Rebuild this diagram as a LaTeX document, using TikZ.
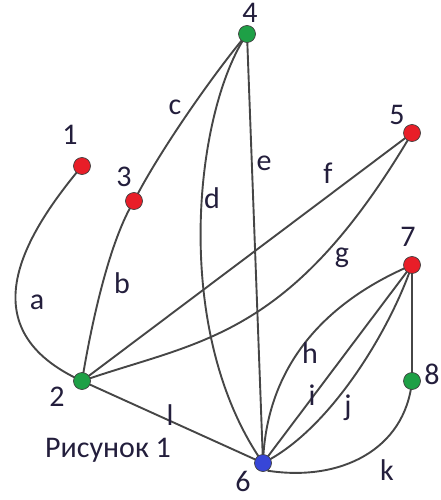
\documentclass[tikz,border=0pt]{standalone}
\usepackage{fontspec}
\setmainfont{Carlito}
\usetikzlibrary{backgrounds}
\definecolor{vred}{RGB}{232,30,40}
\definecolor{vgreen}{RGB}{30,160,70}
\definecolor{vblue}{RGB}{55,70,215}
\definecolor{edgecol}{RGB}{70,70,70}
\definecolor{txt}{RGB}{35,30,60}
\begin{document}
\begin{tikzpicture}[x=1pt,y=-1pt,
  vert/.style={circle, inner sep=0pt, minimum size=17pt, draw=black!75, line width=0.7pt},
  lab/.style={font=\fontsize{30}{35}\selectfont, text=txt, inner sep=0pt},
  edge/.style={draw=edgecol, line width=1.9pt}]
\useasboundingbox (0,0) rectangle (441,500);

% vertices
\node[vert, fill=vred]   (n1) at (82,166) {};
\node[vert, fill=vgreen] (n2) at (82,381) {};
\node[vert, fill=vred]   (n3) at (134,201) {};
\node[vert, fill=vgreen] (n4) at (247,34) {};
\node[vert, fill=vred]   (n5) at (412,133) {};
\node[vert, fill=vblue]  (n6) at (263,463) {};
\node[vert, fill=vred]   (n7) at (412,265) {};
\node[vert, fill=vgreen] (n8) at (412,381) {};

% vertex numbers
\node[lab] (t1) at (70,135) {1};
\node[lab] (t2) at (57,397) {2};
\node[lab] (t3) at (124,177) {3};
\node[lab] (t4) at (250,13) {4};
\node[lab] (t5) at (397,115) {5};
\node[lab] (t6) at (243,481) {6};
\node[lab] (t7) at (408,237) {7};
\node[lab] (t8) at (432,374) {8};

% edge names
\node[lab] (la) at (37,302) {a};
\node[lab] (lb) at (122,283) {b};
\node[lab] (lc) at (175,107) {c};
\node[lab] (ld) at (212,198) {d};
\node[lab] (le) at (264,163) {e};
\node[lab] (lf) at (328,173) {f};
\node[lab] (lg) at (342,258) {g};
\node[lab] (lh) at (310,353) {h};
\node[lab] (li) at (312,395) {i};
\node[lab] (lj) at (348,408) {j};
\node[lab] (lk) at (387,470) {k};
\node[lab] (ll) at (170,415) {l};

% caption
\node[lab] (cap) at (108,450) {Рисунок 1};

% edges behind the vertices
\begin{scope}[on background layer]
  \draw[edge] (n1.center) .. controls (20,240) and (-30,330) .. (n2.center);  % a
  \draw[edge] (n3.center) .. controls (110,240) and (92,320) .. (n2.center);  % b
  \draw[edge] (n4.center) .. controls (215,72) and (160,150) .. (n3.center);  % c
  \draw[edge] (n4.center) .. controls (195,110) and (170,330) .. (n6.center); % d
  \draw[edge] (n4.center) -- (n6.center);                                     % e
  \draw[edge] (n5.center) -- (n2.center);                                     % f
  \draw[edge] (n5.center) .. controls (290,340) and (200,340) .. (n2.center); % g
  \draw[edge] (n7.center) .. controls (318,305) and (266,372) .. (n6.center); % h
  \draw[edge] (n7.center) -- (n6.center);                                     % i
  \draw[edge] (n7.center) .. controls (390,330) and (330,430) .. (n6.center); % j
  \draw[edge] (n8.center) .. controls (405,450) and (340,482) .. (n6.-60);    % k
  \draw[edge] (n2.center) -- (n6.center);                                     % l
  \draw[edge] (n7.center) -- (n8.center);
\end{scope}
\end{tikzpicture}
\end{document}
